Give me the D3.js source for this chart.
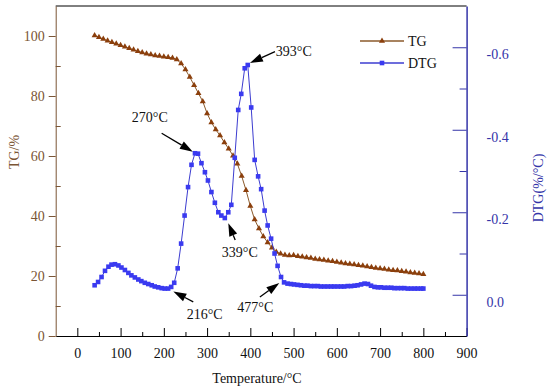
<!DOCTYPE html>
<html>
<head>
<meta charset="utf-8">
<script src="https://cdn.jsdelivr.net/npm/d3@7/dist/d3.min.js"></script>
<style>
body { margin: 0; background: #fff; }
text { font-family: "Liberation Serif", "DejaVu Serif", serif; }
</style>
</head>
<body>
<script>
// TG curve (%), every 10 °C
var tgTemp = [40, 50, 60, 70, 80, 90, 100, 110, 120, 130, 140, 150, 160, 170, 180, 190, 200,
  210, 220, 230, 240, 250, 260, 270, 280, 290, 300, 310, 320, 330, 340, 350, 360, 370, 380,
  390, 400, 410, 420, 430, 440, 450, 460, 470, 480, 490, 500, 510, 520, 530, 540, 550, 560,
  570, 580, 590, 600, 610, 620, 630, 640, 650, 660, 670, 680, 690, 700, 710, 720, 730, 740,
  750, 760, 770, 780, 790, 800];
var tgValue = [100.2, 99.6, 99.0, 98.4, 97.9, 97.4, 96.9, 96.4, 95.9, 95.4, 94.9, 94.5, 94.1,
  93.8, 93.5, 93.3, 93.1, 92.9, 92.7, 92.2, 90.8, 88.8, 86.3, 83.6, 80.9, 78.2, 74.2, 71.2,
  68.8, 66.8, 64.5, 62.4, 60.1, 57.4, 53.3, 48.6, 43.3, 38.8, 35.8, 33.2, 31.2, 29.4, 28.0,
  27.4, 27.0, 26.8, 26.9, 26.6, 26.4, 26.2, 26.0, 25.7, 25.5, 25.3, 25.1, 24.9, 24.7, 24.4,
  24.2, 24.0, 23.8, 23.6, 23.4, 23.2, 22.9, 22.7, 22.5, 22.3, 22.1, 21.9, 21.8, 21.6, 21.4,
  21.2, 21.0, 20.8, 20.6];

// DTG curve (%/°C)
var dtgTemp = [40, 48, 56, 64, 72, 79, 87, 95, 102, 110, 118, 125, 133, 141, 148, 156, 164,
  172, 179, 187, 195, 202, 210, 217, 224, 232, 240, 248, 256, 264, 272, 279, 287, 295, 302,
  310, 318, 326, 333, 341, 349, 356, 364, 372, 379, 387, 394, 402, 410, 418, 425, 433, 440,
  448, 456, 463, 471, 478, 486, 494, 501, 509, 517, 525, 532, 540, 548, 556, 563, 571, 579,
  587, 594, 602, 610, 617, 625, 633, 641, 648, 656, 664, 672, 679, 687, 695, 702, 710, 718,
  726, 733, 741, 749, 756, 764, 772, 780, 787, 795, 800];
var dtgValue = [-0.023, -0.031, -0.043, -0.058, -0.068, -0.073, -0.074, -0.071, -0.066, -0.060,
  -0.053, -0.047, -0.042, -0.037, -0.033, -0.029, -0.026, -0.023, -0.020, -0.018, -0.016,
  -0.015, -0.015, -0.019, -0.029, -0.064, -0.124, -0.192, -0.261, -0.315, -0.343, -0.342,
  -0.319, -0.297, -0.277, -0.249, -0.223, -0.200, -0.192, -0.186, -0.200, -0.218, -0.332,
  -0.448, -0.487, -0.549, -0.557, -0.454, -0.327, -0.287, -0.256, -0.204, -0.168, -0.136,
  -0.100, -0.070, -0.043, -0.030, -0.027, -0.026, -0.025, -0.024, -0.023, -0.022, -0.022,
  -0.021, -0.021, -0.021, -0.020, -0.020, -0.020, -0.020, -0.020, -0.020, -0.020, -0.020,
  -0.021, -0.021, -0.022, -0.023, -0.025, -0.027, -0.026, -0.022, -0.019, -0.018, -0.018,
  -0.017, -0.017, -0.017, -0.016, -0.016, -0.016, -0.016, -0.015, -0.015, -0.015, -0.015,
  -0.015, -0.015];

var xMajor = [0, 100, 200, 300, 400, 500, 600, 700, 800, 900];
var xMinor = [50, 150, 250, 350, 450, 550, 650, 750, 850];
var tgMajor = [0, 20, 40, 60, 80, 100];
var tgMinor = [10, 30, 50, 70, 90];
var dtgMajor = [0, -0.2, -0.4, -0.6];
var dtgMinor = [-0.1, -0.3, -0.5];

// notes: label position and arrow tail / tip, in (°C, TG%) units
var notes = [
  { text: "270°C", lx: 126, ly: 71.3, fx: 195, fy: 67.6, tx: 267, ty: 61.4 },
  { text: "393°C", lx: 459, ly: 93.2, fx: 457, fy: 94.8, tx: 399, ty: 91.0 },
  { text: "339°C", lx: 334, ly: 26.3, fx: 365, fy: 32.0, tx: 349, ty: 37.6 },
  { text: "216°C", lx: 253, ly: 5.7, fx: 268, fy: 11.4, tx: 222, ty: 14.8 },
  { text: "477°C", lx: 370, ly: 8.0, fx: 422, fy: 13.0, tx: 467, ty: 17.7 }
];

var width = 550, height = 392;
var brown = "#7a5535", tgColor = "#8b3f0c", tgLine = "#8b5a2b";
var blue = "#3434a8", dtgColor = "#3a3af0", dtgLine = "#3c3cd0";

var svg = d3.select("body").append("svg")
  .attr("width", width)
  .attr("height", height);

var x = d3.scaleLinear().domain([-50, 900]).range([55.7, 466.6]);
var yTG = d3.scaleLinear().domain([0, 110]).range([336, 6]);
var yDTG = d3.scaleLinear().domain([0.1, -0.7]).range([336, 6]);

/* frame top */
svg.append("line")
  .attr("x1", x(-50)).attr("x2", x(900))
  .attr("y1", yTG(110)).attr("y2", yTG(110))
  .attr("stroke", "#000").attr("stroke-width", 1);

/* bottom axis */
var gx = svg.append("g").attr("transform", "translate(0," + yTG(0) + ")")
  .call(d3.axisBottom(x).tickValues(xMajor).tickSize(-8).tickSizeOuter(0).tickPadding(12));
svg.append("g").attr("transform", "translate(0," + yTG(0) + ")")
  .call(d3.axisBottom(x).tickValues(xMinor).tickSize(-4).tickSizeOuter(0).tickFormat(""))
  .select(".domain").remove();

/* left axis */
var gl = svg.append("g").attr("transform", "translate(" + x(-50) + ",0)")
  .call(d3.axisLeft(yTG).tickValues(tgMajor).tickSize(7).tickSizeOuter(0).tickPadding(4));
svg.append("g").attr("transform", "translate(" + x(-50) + ",0)")
  .call(d3.axisRight(yTG).tickValues(tgMinor).tickSize(5).tickFormat(""))
  .call(function(g) { g.select(".domain").remove(); })
  .selectAll("line").attr("stroke", brown);
gl.select(".domain").attr("stroke", brown);
gl.selectAll(".tick line").attr("stroke", brown);
gl.selectAll(".tick text").attr("fill", brown);

/* right axis */
var gr = svg.append("g").attr("transform", "translate(" + x(900) + ",0)")
  .call(d3.axisRight(yDTG).tickValues(dtgMajor).tickSize(-14).tickSizeOuter(0).tickPadding(20)
    .tickFormat(function(d) { return d.toFixed(1); }));
svg.append("g").attr("transform", "translate(" + x(900) + ",0)")
  .call(d3.axisRight(yDTG).tickValues(dtgMinor).tickSize(-7).tickFormat(""))
  .call(function(g) { g.select(".domain").remove(); })
  .selectAll("line").attr("stroke", blue);
gr.select(".domain").attr("stroke", blue).attr("stroke-width", 1.5);
gr.selectAll(".tick line").attr("stroke", blue);
gr.selectAll(".tick text").attr("fill", blue).attr("y", 7);

svg.selectAll(".tick text").attr("font-size", 14).attr("font-family", "Liberation Serif, serif");
gx.selectAll(".tick text").attr("fill", "#111");

/* axis titles */
svg.append("text")
  .attr("x", 257).attr("y", 383)
  .attr("text-anchor", "middle").attr("font-size", 14).attr("fill", "#111")
  .text("Temperature/°C");
svg.append("text")
  .attr("transform", "translate(19,152) rotate(-90)")
  .attr("text-anchor", "middle").attr("font-size", 14).attr("fill", brown)
  .text("TG/%");
svg.append("text")
  .attr("transform", "translate(543,188) rotate(-90)")
  .attr("text-anchor", "middle").attr("font-size", 14).attr("fill", blue)
  .text("DTG(%/°C)");

/* TG series */
var tgData = tgTemp.map(function(t, i) { return { t: t, v: tgValue[i] }; });
var dtgData = dtgTemp.map(function(t, i) { return { t: t, v: dtgValue[i] }; });

svg.append("path").datum(tgData)
  .attr("fill", "none").attr("stroke", tgLine).attr("stroke-width", 1)
  .attr("d", d3.line().x(function(d) { return x(d.t); }).y(function(d) { return yTG(d.v); }));

var tri = d3.symbol().type(d3.symbolTriangle).size(16);
svg.append("g").selectAll("path")
  .data(tgData)
  .enter().append("path")
    .attr("d", tri)
    .attr("fill", tgColor)
    .attr("transform", function(d) { return "translate(" + x(d.t) + "," + yTG(d.v) + ")"; });

/* DTG series */
svg.append("path").datum(dtgData)
  .attr("fill", "none").attr("stroke", dtgLine).attr("stroke-width", 1)
  .attr("d", d3.line().x(function(d) { return x(d.t); }).y(function(d) { return yDTG(d.v); }));

svg.append("g").selectAll("rect")
  .data(dtgData)
  .enter().append("rect")
    .attr("x", function(d) { return x(d.t) - 2.3; })
    .attr("y", function(d) { return yDTG(d.v) - 2.3; })
    .attr("width", 4.6).attr("height", 4.6)
    .attr("fill", dtgColor);

/* annotations */
var ann = svg.append("g");
notes.forEach(function(n) {
  var x1 = x(n.fx), y1 = yTG(n.fy), x2 = x(n.tx), y2 = yTG(n.ty);
  var a = Math.atan2(y2 - y1, x2 - x1);
  var len = 13, hw = 4.2;
  var bx = x2 - len * Math.cos(a), by = y2 - len * Math.sin(a);
  ann.append("line")
    .attr("x1", x1).attr("y1", y1).attr("x2", bx).attr("y2", by)
    .attr("stroke", "#000").attr("stroke-width", 1.3);
  var px = -Math.sin(a) * hw, py = Math.cos(a) * hw;
  ann.append("path")
    .attr("d", "M" + x2 + "," + y2 + "L" + (bx + px) + "," + (by + py) + "L" + (bx - px) + "," + (by - py) + "Z")
    .attr("fill", "#000");
  ann.append("text")
    .attr("x", x(n.lx)).attr("y", yTG(n.ly))
    .attr("font-size", 14).attr("fill", "#111")
    .text(n.text);
});

/* legend */
var leg = svg.append("g");
leg.append("line").attr("x1", 360).attr("x2", 404).attr("y1", 41).attr("y2", 41)
  .attr("stroke", tgLine).attr("stroke-width", 1.3);
leg.append("path").attr("d", tri).attr("fill", tgColor).attr("transform", "translate(382,41)");
leg.append("text").attr("x", 408).attr("y", 46).attr("font-size", 14).attr("fill", "#111").text("TG");
leg.append("line").attr("x1", 360).attr("x2", 404).attr("y1", 63).attr("y2", 63)
  .attr("stroke", dtgLine).attr("stroke-width", 1.3);
leg.append("rect").attr("x", 379.7).attr("y", 60.7).attr("width", 4.6).attr("height", 4.6).attr("fill", dtgColor);
leg.append("text").attr("x", 408).attr("y", 68).attr("font-size", 14).attr("fill", "#111").text("DTG");
</script>
</body>
</html>
